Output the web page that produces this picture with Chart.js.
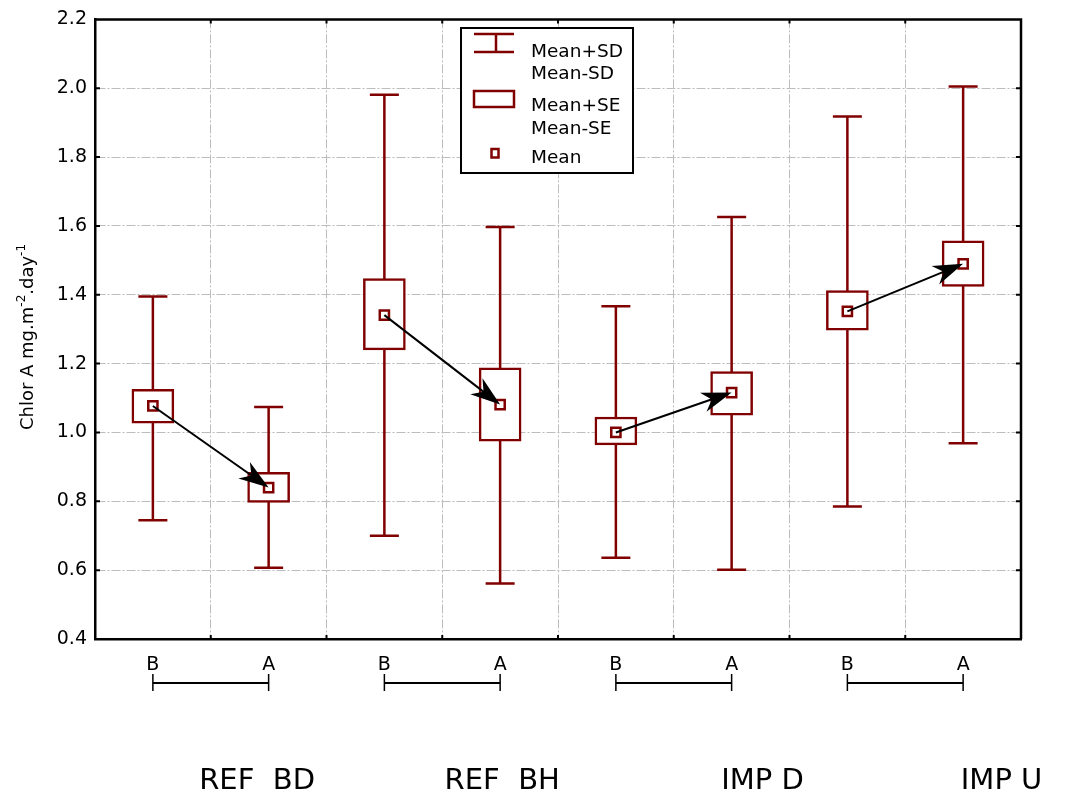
<!DOCTYPE html>
<html>
<head>
<meta charset="utf-8">
<script src="https://cdn.jsdelivr.net/npm/chart.js@4.4.0/dist/chart.umd.min.js"></script>
<style>
  html, body { margin: 0; padding: 0; background: #fff; }
  #wrap { width: 1080px; height: 810px; position: relative; }
</style>
</head>
<body>
<div id="wrap"><canvas id="chart"></canvas></div>
<script>
// Chlorophyll A, before (B) and after (A) at each site
const periods = ['B', 'A', 'B', 'A', 'B', 'A', 'B', 'A'];
const sites = ['REF  BD', 'REF  BH', 'IMP D', 'IMP U'];
const means  = [1.077, 0.840, 1.341, 1.081, 1.000, 1.116, 1.352, 1.490];
const seLow  = [1.027, 0.797, 1.240, 0.975, 0.964, 1.050, 1.297, 1.424];
const seHigh = [1.125, 0.884, 1.447, 1.188, 1.045, 1.177, 1.412, 1.557];
const sdLow  = [0.745, 0.607, 0.700, 0.561, 0.636, 0.601, 0.785, 0.969];
const sdHigh = [1.395, 1.074, 1.981, 1.597, 1.367, 1.626, 1.918, 2.005];
const yTicks = [0.4, 0.6, 0.8, 1.0, 1.2, 1.4, 1.6, 1.8, 2.0, 2.2];

// where each site name starts, in category units
const siteLabelAt = [0.40, 2.52, 4.91, 6.98];

const DARK_RED = '#800000';
const GRID = '#bdbdbd';
const FONT = "'DejaVu Sans', sans-serif";

function drawArrow(ctx, x0, y0, x1, y1) {
  const ang = Math.atan2(y1 - y0, x1 - x0);
  ctx.save();
  ctx.translate(x1, y1);
  ctx.rotate(ang);
  const len = Math.hypot(x1 - x0, y1 - y0);
  ctx.strokeStyle = '#000';
  ctx.fillStyle = '#000';
  ctx.lineWidth = 2;
  ctx.beginPath();
  ctx.moveTo(-len, 0);
  ctx.lineTo(-20, 0);
  ctx.stroke();
  ctx.beginPath();
  ctx.moveTo(0, 0);
  ctx.lineTo(-30, 10);
  ctx.lineTo(-21, 0);
  ctx.lineTo(-30, -10);
  ctx.closePath();
  ctx.fill();
  ctx.restore();
}

const decorations = {
  id: 'decorations',
  beforeDatasetsDraw(chart) {
    // SD whiskers sit underneath the SE boxes
    const { ctx, scales: { x, y } } = chart;
    ctx.save();
    ctx.strokeStyle = DARK_RED;
    ctx.lineWidth = 2.5;
    means.forEach((m, i) => {
      const px = x.getPixelForValue(i);
      const top = y.getPixelForValue(sdHigh[i]);
      const bot = y.getPixelForValue(sdLow[i]);
      ctx.beginPath();
      ctx.moveTo(px, top); ctx.lineTo(px, bot);
      ctx.moveTo(px - 14.5, top); ctx.lineTo(px + 14.5, top);
      ctx.moveTo(px - 14.5, bot); ctx.lineTo(px + 14.5, bot);
      ctx.stroke();
    });
    ctx.restore();
  },
  afterDatasetsDraw(chart) {
    const { ctx, scales: { x, y } } = chart;
    for (let i = 0; i < means.length; i += 2) {
      drawArrow(ctx,
        x.getPixelForValue(i), y.getPixelForValue(means[i]),
        x.getPixelForValue(i + 1), y.getPixelForValue(means[i + 1]));
    }
  },
  afterDraw(chart) {
    const { ctx, chartArea: ca, scales: { x, y } } = chart;
    const step = x.getPixelForValue(1) - x.getPixelForValue(0);
    ctx.save();

    // frame
    ctx.strokeStyle = '#000';
    ctx.lineWidth = 2.5;
    ctx.beginPath();
    ctx.moveTo(ca.left, ca.top); ctx.lineTo(ca.right, ca.top);
    ctx.lineTo(ca.right, ca.bottom);
    ctx.stroke();

    // inward tick marks on all four sides
    ctx.lineWidth = 2;
    ctx.beginPath();
    for (let i = 1; i < periods.length; i++) {
      const gx = x.getPixelForValue(i) - step / 2;
      ctx.moveTo(gx, ca.top); ctx.lineTo(gx, ca.top + 4);
      ctx.moveTo(gx, ca.bottom); ctx.lineTo(gx, ca.bottom - 4);
    }
    yTicks.slice(1, -1).forEach(v => {
      const gy = y.getPixelForValue(v);
      ctx.moveTo(ca.left, gy); ctx.lineTo(ca.left + 5, gy);
      ctx.moveTo(ca.right, gy); ctx.lineTo(ca.right - 5, gy);
    });
    ctx.stroke();

    // B–A brackets and site names
    ctx.lineWidth = 2;
    ctx.fillStyle = '#000';
    ctx.font = `29px ${FONT}`;
    ctx.textBaseline = 'alphabetic';
    ctx.textAlign = 'left';
    sites.forEach((name, s) => {
      const xb = x.getPixelForValue(2 * s);
      const xa = x.getPixelForValue(2 * s + 1);
      ctx.beginPath();
      ctx.moveTo(xb, 683); ctx.lineTo(xa, 683);
      ctx.stroke();
      ctx.lineWidth = 1.5;
      ctx.beginPath();
      ctx.moveTo(xb, 674); ctx.lineTo(xb, 691);
      ctx.moveTo(xa, 674); ctx.lineTo(xa, 691);
      ctx.stroke();
      ctx.lineWidth = 2;
      const lx = x.getPixelForValue(0) + siteLabelAt[s] * step;
      ctx.fillText(name, lx, 789);
    });

    // y axis title with superscripts
    const parts = [['Chlor A mg.m', false], ['-2', true], ['.day', false], ['-1', true]];
    let total = 0;
    parts.forEach(([t, sup]) => {
      ctx.font = `${sup ? 12 : 18}px ${FONT}`;
      total += ctx.measureText(t).width;
    });
    ctx.translate(33, 337);
    ctx.rotate(-Math.PI / 2);
    let cx = -total / 2;
    parts.forEach(([t, sup]) => {
      ctx.font = `${sup ? 12 : 18}px ${FONT}`;
      ctx.fillText(t, cx, sup ? -8 : 0);
      cx += ctx.measureText(t).width;
    });
    ctx.setTransform(1, 0, 0, 1, 0, 0);

    // legend box
    ctx.fillStyle = '#fff';
    ctx.fillRect(461, 28, 172, 145);
    ctx.strokeStyle = '#000';
    ctx.lineWidth = 2;
    ctx.strokeRect(461, 28, 172, 145);

    ctx.strokeStyle = DARK_RED;
    ctx.lineWidth = 2.5;
    ctx.beginPath();
    ctx.moveTo(474, 34); ctx.lineTo(514, 34);
    ctx.moveTo(474, 52); ctx.lineTo(514, 52);
    ctx.moveTo(496, 34); ctx.lineTo(496, 52);
    ctx.stroke();
    ctx.strokeRect(474, 91, 40, 16);
    ctx.strokeRect(491.5, 149, 7, 8.5);

    ctx.fillStyle = '#000';
    ctx.font = `18.5px ${FONT}`;
    ctx.fillText('Mean+SD', 531, 57);
    ctx.fillText('Mean-SD', 531, 79);
    ctx.fillText('Mean+SE', 531, 110.5);
    ctx.fillText('Mean-SE', 531, 134);
    ctx.fillText('Mean', 531, 162.5);

    ctx.restore();
  }
};

new Chart(document.getElementById('chart'), {
  type: 'bar',
  data: {
    labels: periods,
    datasets: [
      {
        type: 'line',
        label: 'Mean',
        data: means,
        showLine: false,
        pointStyle: 'rect',
        pointRadius: 6.5,
        pointBorderWidth: 2.5,
        pointBackgroundColor: '#fff',
        pointBorderColor: DARK_RED,
        order: 1
      },
      {
        type: 'bar',
        label: 'Mean±SE',
        data: seLow.map((lo, i) => [lo, seHigh[i]]),
        backgroundColor: '#fff',
        borderColor: DARK_RED,
        borderWidth: 2.5,
        borderSkipped: false,
        barThickness: 42,
        order: 2
      }
    ]
  },
  options: {
    responsive: true,
    maintainAspectRatio: false,
    animation: false,
    layout: { padding: { top: 13, right: 59, left: 0, bottom: 0 } },
    plugins: {
      legend: { display: false },
      tooltip: { enabled: false }
    },
    scales: {
      x: {
        type: 'category',
        offset: true,
        grid: { offset: true, color: GRID, lineWidth: 1, drawTicks: false },
        border: { color: '#000', width: 2.5, dash: [9, 2, 2, 2] },
        ticks: { color: '#000', font: { family: FONT, size: 19 }, padding: 15 },
        afterFit(scale) { scale.height = 171; }
      },
      y: {
        min: 0.4,
        max: 2.2,
        grid: { color: GRID, lineWidth: 1, drawTicks: false },
        border: { color: '#000', width: 2.5, dash: [9, 2, 2, 2] },
        ticks: {
          color: '#000',
          font: { family: FONT, size: 19 },
          padding: 8,
          callback: v => Number(v).toFixed(1)
        },
        afterBuildTicks(scale) { scale.ticks = yTicks.map(v => ({ value: v })); },
        afterFit(scale) { scale.width = 95; }
      }
    }
  },
  plugins: [decorations]
});
</script>
</body>
</html>
